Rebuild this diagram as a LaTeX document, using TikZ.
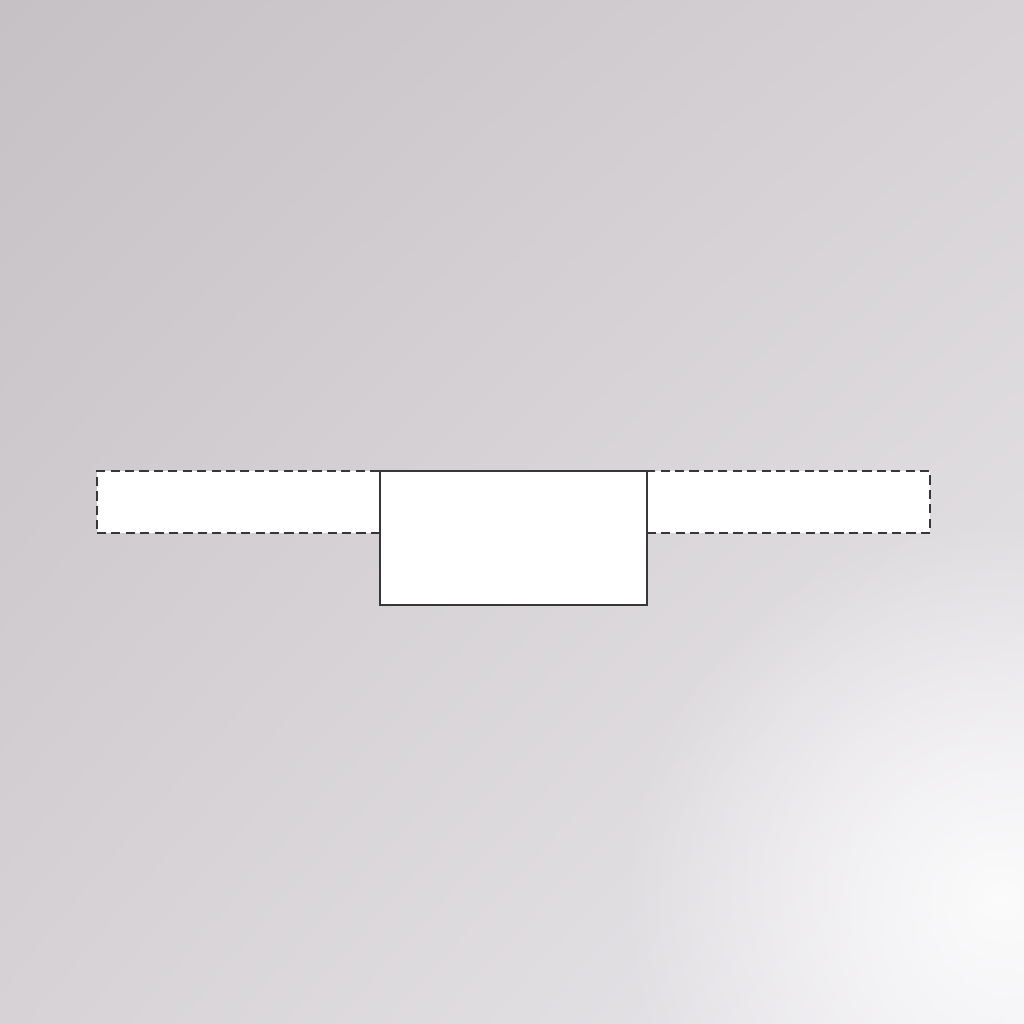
\documentclass[tikz,border=0pt]{standalone}
\usetikzlibrary{fadings,shadings}
\definecolor{bgdark}{RGB}{198,193,196}
\definecolor{bgmid}{RGB}{214,210,213}
\definecolor{bglight}{RGB}{234,232,237}
\definecolor{edge}{RGB}{55,55,58}
\tikzfading[name=glow, inner color=transparent!0, outer color=transparent!100]
\tikzset{
  wing/.style={draw=edge, fill=white, line width=0.55pt, dash pattern=on 2.6pt off 1.5pt, inner sep=0pt, minimum width=2.83cm, minimum height=0.62cm},
  body/.style={draw=edge, fill=white, line width=0.65pt, inner sep=0pt, minimum width=2.67cm, minimum height=1.34cm}
}
\begin{document}
\begin{tikzpicture}[x=0.01cm,y=-0.01cm]
\useasboundingbox (0,0) rectangle (1024,1024);
\shade[upper left=bgdark, upper right=bgmid, lower left=bgmid, lower right=bglight] (0,0) rectangle (1024,1024);
\fill[white, opacity=0.85, path fading=glow] (1000,900) circle (380);
\node[wing] (L) at (238.5,502) {};
\node[wing] (R) at (788.5,502) {};
\node[body] (C) at (513.5,538) {};
\end{tikzpicture}
\end{document}
